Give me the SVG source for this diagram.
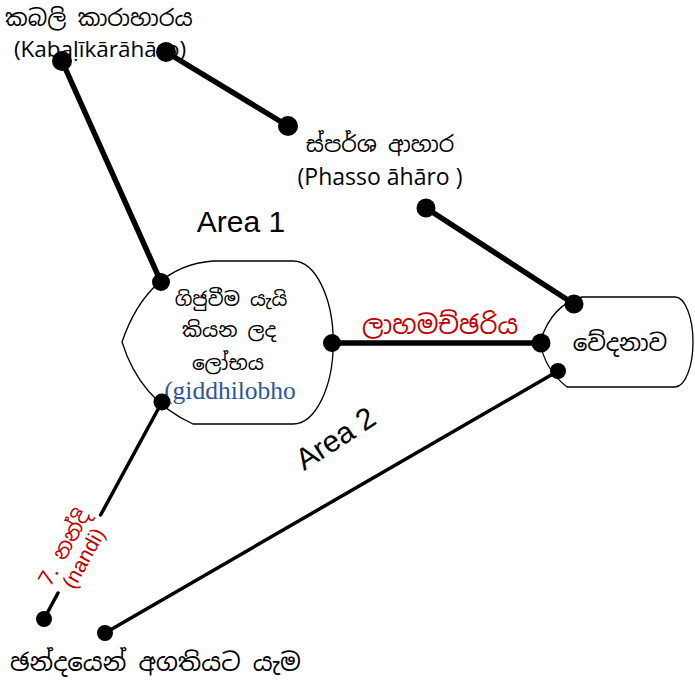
<svg xmlns="http://www.w3.org/2000/svg" width="695" height="686" viewBox="0 0 695 686">
<style>
.si{font-family:"Noto Sans Sinhala","Iskoola Pota","Noto Sans",sans-serif;fill:#000}
.la{font-family:"Open Sans","Noto Sans","Liberation Sans",sans-serif;fill:#000}
.ar{font-family:"Liberation Sans",Arial,sans-serif;fill:#000;font-size:30px}
.red{fill:#C00000}
.node{fill:#fff;stroke:#000;stroke-width:1.3}
.thick{stroke:#000;stroke-width:5.5;fill:none;stroke-linecap:round}
.thin{stroke:#000;stroke-width:3.5;fill:none;stroke-linecap:round}
.dot{fill:#000}
</style>
<rect width="695" height="686" fill="#fff"/>

<g id="labels">
<text class="si" x="99" y="26" text-anchor="middle" font-size="22.5">කබලි කාරාහාරය</text>
<text class="la" x="100" y="57" text-anchor="middle" font-size="22.5">(Kabaḷīkārāhāro)</text>
<text class="si" x="380" y="152" text-anchor="middle" font-size="22">ස්පර්ශ ආහාර</text>
<text class="la" x="380" y="185" text-anchor="middle" font-size="23">(Phasso āhāro )</text>
<text class="ar" x="241" y="232" text-anchor="middle">Area 1</text>
<text class="ar" x="341" y="447" text-anchor="middle" transform="rotate(-33 341 447)">Area 2</text>
<text class="si" x="10" y="671" font-size="24.5">ඡන්දයෙන් අගතියට යැම</text>
</g>

<g id="node-lobha">
<path class="node" d="M213,261 L293,261 A40,81 0 0 1 293,424 L193,424 Q140,400 122,342 Q148,266 213,261 Z"/>
<text class="si" x="231" y="306" text-anchor="middle" font-size="19.5">ගිජුවීම යැයි</text>
<text class="si" x="229" y="337" text-anchor="middle" font-size="20">කියන ලද</text>
<text class="si" x="228" y="370" text-anchor="middle" font-size="20">ලෝභය</text>
<text x="230" y="399" text-anchor="middle" font-family="'Liberation Serif','Times New Roman',serif" font-size="25.5" fill="#2F5597">(giddhilobho</text>
</g>

<g id="node-vedana">
<path class="node" d="M582,297 L675,297 A18,45 0 0 1 675,387 L567,387 Q545,370 540,342 Q552,304 582,297 Z"/>
<text class="si" x="620" y="351" text-anchor="middle" font-size="23">වේදනාව</text>
</g>

<g id="connectors">
<line class="thick" x1="62" y1="61" x2="161" y2="282"/>
<line class="thick" x1="166" y1="52" x2="288" y2="126"/>
<line class="thick" x1="426" y1="208" x2="574" y2="304"/>
<line class="thick" x1="332" y1="343" x2="541" y2="343"/>
<path class="thin" d="M162,402 L100.6,515 M58,593 L44,619"/>
<line class="thin" x1="558" y1="371" x2="105" y2="633"/>
<circle class="dot" cx="62" cy="61" r="10"/>
<circle class="dot" cx="161" cy="282" r="9"/>
<circle class="dot" cx="166" cy="52" r="10"/>
<circle class="dot" cx="288" cy="126" r="10"/>
<circle class="dot" cx="426" cy="208" r="9.5"/>
<circle class="dot" cx="574" cy="304" r="9.5"/>
<circle class="dot" cx="332" cy="343" r="9"/>
<circle class="dot" cx="541" cy="343" r="9.5"/>
<circle class="dot" cx="162" cy="402" r="8.5"/>
<circle class="dot" cx="44" cy="619" r="8"/>
<circle class="dot" cx="558" cy="371" r="8"/>
<circle class="dot" cx="105" cy="633" r="8"/>
<text class="si red" x="440" y="334" text-anchor="middle" font-size="25.5">ලාහමච්ඡරිය</text>
<g transform="translate(74,553) rotate(-61)">
<text class="si red" x="0" y="-4" text-anchor="middle" font-size="21.5">7. නන්දි</text>
<text class="red" x="0" y="18" text-anchor="middle" font-family="'Liberation Sans',Arial,sans-serif" font-size="21">(nandi)</text>
</g>
</g>
</svg>
